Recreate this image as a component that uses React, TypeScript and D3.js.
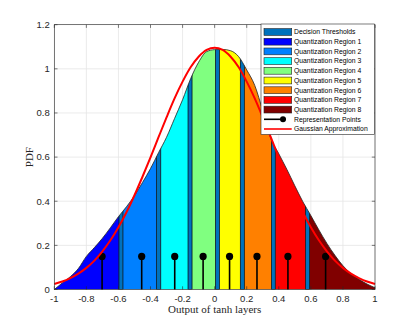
import * as d3 from "d3";
import { useEffect, useRef } from "react";

// sample positions along the x axis
const xs = [
  -1.0, -0.95, -0.9, -0.85, -0.8, -0.75, -0.7, -0.65, -0.6, -0.55, -0.5,
  -0.45, -0.4, -0.35, -0.3, -0.25, -0.2, -0.15, -0.1, -0.05, 0.0,
  0.05, 0.1, 0.15, 0.2, 0.25, 0.3, 0.35, 0.4, 0.45, 0.5,
  0.55, 0.6, 0.65, 0.7, 0.75, 0.8, 0.85, 0.9, 0.95, 1.0,
];

// empirical PDF (filled area)
const pdfValues = [
  0.0, 0.03, 0.058, 0.095, 0.15, 0.19, 0.232, 0.28, 0.33, 0.375, 0.425,
  0.485, 0.548, 0.62, 0.69, 0.775, 0.86, 0.955, 1.03, 1.078, 1.087,
  1.088, 1.082, 1.055, 0.995, 0.925, 0.81, 0.685, 0.615, 0.545, 0.47,
  0.398, 0.335, 0.27, 0.209, 0.155, 0.108, 0.072, 0.046, 0.025, 0.008,
];

// gaussian approximation (red line)
const gaussValues = [
  0.025, 0.036, 0.052, 0.072, 0.098, 0.131, 0.173, 0.223, 0.282, 0.35, 0.427,
  0.511, 0.599, 0.69, 0.78, 0.866, 0.942, 1.007, 1.055, 1.086, 1.096,
  1.086, 1.055, 1.007, 0.942, 0.866, 0.78, 0.69, 0.599, 0.511, 0.427,
  0.35, 0.282, 0.223, 0.173, 0.131, 0.098, 0.072, 0.052, 0.036, 0.025,
];

const thresholds = [
  [-0.597, -0.572], [-0.362, -0.336], [-0.166, -0.141], [0.005, 0.03],
  [0.16, 0.185], [0.354, 0.378], [0.567, 0.592],
];

const regions = [
  [-1, -0.597], [-0.572, -0.362], [-0.336, -0.166], [-0.141, 0.005],
  [0.03, 0.16], [0.185, 0.354], [0.378, 0.567], [0.592, 1],
];
const regionColors = ["#0000ff", "#0080ff", "#00ffff", "#80ff80", "#ffff00", "#ff8000", "#ff0000", "#800000"];
const thresholdColor = "#0072bd";

const repPoints = [-0.702, -0.455, -0.249, -0.072, 0.093, 0.264, 0.457, 0.692];
const repHeight = 0.15;

const xTicks = [-1, -0.8, -0.6, -0.4, -0.2, 0, 0.2, 0.4, 0.6, 0.8, 1];
const yTicks = [0, 0.2, 0.4, 0.6, 0.8, 1, 1.2];

const legendLabels = [
  "Decision Thresholds",
  "Quantization Region 1", "Quantization Region 2", "Quantization Region 3", "Quantization Region 4",
  "Quantization Region 5", "Quantization Region 6", "Quantization Region 7", "Quantization Region 8",
  "Representation Points", "Gaussian Approximation",
];

const App = () => {
  const svgRef = useRef<SVGSVGElement>(null);

  useEffect(() => {
    const svg = d3.select(svgRef.current);
    svg.selectAll("*").remove();
    const width = 415;
    const height = 325;
    const m = { left: 54.3, right: 375, top: 24.7, bottom: 289.5 };
    const axisColor = "#262626";

    svg.append("rect").attr("width", width).attr("height", height).attr("fill", "#fff");

    const x = d3.scaleLinear().domain([-1, 1]).range([m.left, m.right]);
    const y = d3.scaleLinear().domain([0, 1.2]).range([m.bottom, m.top]);

    // grid
    const grid = svg.append("g").attr("stroke", "#e6e6e6").attr("stroke-width", 0.8);
    xTicks.forEach((t) => grid.append("line").attr("x1", x(t)).attr("x2", x(t)).attr("y1", m.top).attr("y2", m.bottom));
    yTicks.forEach((t) => grid.append("line").attr("x1", m.left).attr("x2", m.right).attr("y1", y(t)).attr("y2", y(t)));

    const pdf = xs.map((v, i) => [v, pdfValues[i]] as [number, number]);
    const area = d3.area<[number, number]>()
      .x((d) => x(d[0]))
      .y0(y(0))
      .y1((d) => y(d[1]))
      .curve(d3.curveMonotoneX);

    svg.append("defs").append("clipPath").attr("id", "pdf-clip")
      .append("path").datum(pdf).attr("d", area);

    const fills = svg.append("g").attr("clip-path", "url(#pdf-clip)");
    regions.forEach(([a, b], i) => {
      fills.append("rect")
        .attr("x", x(a)).attr("width", x(b) - x(a))
        .attr("y", m.top).attr("height", m.bottom - m.top)
        .attr("fill", regionColors[i]);
    });
    thresholds.forEach(([a, b]) => {
      fills.append("rect")
        .attr("x", x(a)).attr("width", x(b) - x(a))
        .attr("y", m.top - 5).attr("height", m.bottom - m.top + 5)
        .attr("fill", thresholdColor)
        .attr("stroke", "#000").attr("stroke-width", 0.7);
    });

    // pdf outline
    svg.append("path").datum(pdf)
      .attr("fill", "none").attr("stroke", "#222").attr("stroke-width", 0.8)
      .attr("d", d3.line<[number, number]>().x((d) => x(d[0])).y((d) => y(d[1])).curve(d3.curveMonotoneX));

    // representation points
    const stems = svg.append("g");
    repPoints.forEach((p) => {
      stems.append("line")
        .attr("x1", x(p)).attr("x2", x(p)).attr("y1", y(0)).attr("y2", y(repHeight))
        .attr("stroke", "#000").attr("stroke-width", 1.6);
      stems.append("circle").attr("cx", x(p)).attr("cy", y(repHeight)).attr("r", 3.6).attr("fill", "#000");
    });

    // gaussian approximation
    const gauss = xs.map((v, i) => [v, gaussValues[i]] as [number, number]);
    svg.append("path").datum(gauss)
      .attr("fill", "none").attr("stroke", "#ff0000").attr("stroke-width", 2)
      .attr("d", d3.line<[number, number]>().x((d) => x(d[0])).y((d) => y(d[1])).curve(d3.curveCatmullRom));

    // axes box with inward ticks
    const ax = svg.append("g").attr("stroke", axisColor).attr("stroke-width", 0.6).attr("fill", "none");
    ax.append("rect").attr("x", m.left).attr("y", m.top).attr("width", m.right - m.left).attr("height", m.bottom - m.top);
    const tl = 3.2;
    xTicks.forEach((t) => {
      ax.append("line").attr("x1", x(t)).attr("x2", x(t)).attr("y1", m.bottom).attr("y2", m.bottom - tl);
      ax.append("line").attr("x1", x(t)).attr("x2", x(t)).attr("y1", m.top).attr("y2", m.top + tl);
    });
    yTicks.forEach((t) => {
      ax.append("line").attr("x1", m.left).attr("x2", m.left + tl).attr("y1", y(t)).attr("y2", y(t));
      ax.append("line").attr("x1", m.right).attr("x2", m.right - tl).attr("y1", y(t)).attr("y2", y(t));
    });

    const labels = svg.append("g").attr("font-family", "Liberation Sans, Arial, sans-serif").attr("font-size", 9.5).attr("fill", axisColor);
    xTicks.forEach((t) => {
      labels.append("text").attr("x", x(t)).attr("y", 302).attr("text-anchor", "middle").text(String(t));
    });
    yTicks.forEach((t) => {
      labels.append("text").attr("x", m.left - 4.5).attr("y", y(t)).attr("dy", "0.35em").attr("text-anchor", "end").text(String(t));
    });

    svg.append("text")
      .attr("x", x(0)).attr("y", 313)
      .attr("text-anchor", "middle")
      .attr("font-family", "Liberation Serif, Times New Roman, serif").attr("font-size", 11).attr("fill", axisColor)
      .text("Output of tanh layers");
    svg.append("text")
      .attr("transform", `translate(33,${(m.top + m.bottom) / 2}) rotate(-90)`)
      .attr("text-anchor", "middle")
      .attr("font-family", "Liberation Serif, Times New Roman, serif").attr("font-size", 11).attr("fill", axisColor)
      .text("PDF");

    // legend
    const lg = svg.append("g");
    const lx = 261, ly = 24, lw = 113.5, lh = 110.5;
    lg.append("rect").attr("x", lx).attr("y", ly).attr("width", lw).attr("height", lh)
      .attr("fill", "#fff").attr("stroke", axisColor).attr("stroke-width", 0.6);
    const rowY = (i: number) => ly + 8 + i * 9.7;
    const swatchColors = [thresholdColor, ...regionColors];
    legendLabels.forEach((label, i) => {
      const cy = rowY(i);
      if (i < swatchColors.length) {
        lg.append("rect").attr("x", lx + 3).attr("y", cy - 3.4).attr("width", 27.7).attr("height", 6.8)
          .attr("fill", swatchColors[i]).attr("stroke", "#222").attr("stroke-width", 0.6);
      } else if (i === swatchColors.length) {
        lg.append("line").attr("x1", lx + 3).attr("x2", lx + 25).attr("y1", cy).attr("y2", cy)
          .attr("stroke", "#000").attr("stroke-width", 1.6);
        lg.append("circle").attr("cx", lx + 22).attr("cy", cy).attr("r", 3).attr("fill", "#000");
      } else {
        lg.append("line").attr("x1", lx + 3).attr("x2", lx + 30.7).attr("y1", cy).attr("y2", cy)
          .attr("stroke", "#ff0000").attr("stroke-width", 1.6);
      }
      lg.append("text").attr("x", lx + 33).attr("y", cy).attr("dy", "0.35em")
        .attr("font-family", "Liberation Sans, Arial, sans-serif").attr("font-size", 6.8).attr("fill", "#000")
        .text(label);
    });
  }, []);

  return (
    <div style={{ position: "fixed", left: 0, top: 0 }}>
      <svg ref={svgRef} width={415} height={325} style={{ display: "block" }} />
    </div>
  );
};

export default App;
